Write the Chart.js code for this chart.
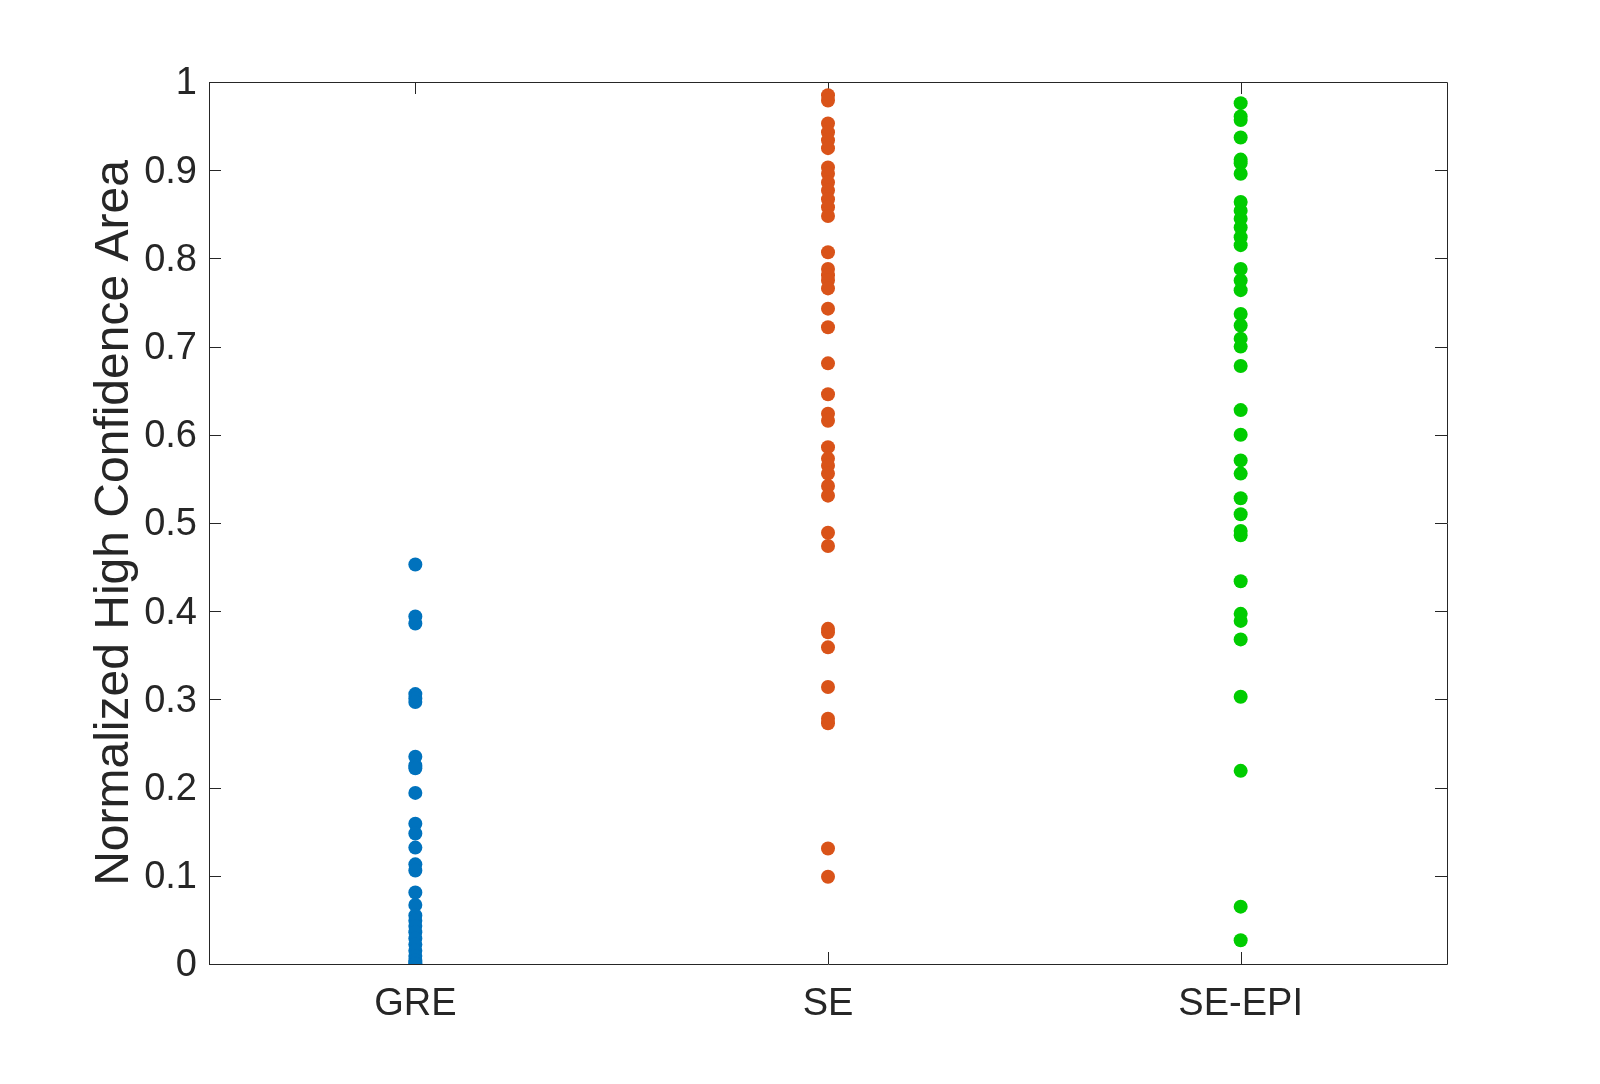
<!DOCTYPE html>
<html>
<head>
<meta charset="utf-8">
<script src="https://cdn.jsdelivr.net/npm/chart.js@4.4.1/dist/chart.umd.min.js"></script>
<style>
    html, body { margin: 0; padding: 0; background: #fff; }
    canvas { display: block; }
</style>
</head>
<body>
<canvas id="scatterChart" width="1600" height="1084"></canvas>
<script>
// Categories on the x axis (positions 1, 2, 3)
const categories = ['GRE', 'SE', 'SE-EPI'];
const categoryPos = [1, 2, 3];

// Y ticks
const yTicks = [0, 0.1, 0.2, 0.3, 0.4, 0.5, 0.6, 0.7, 0.8, 0.9, 1];
const yTickLabels = ['0', '0.1', '0.2', '0.3', '0.4', '0.5', '0.6', '0.7', '0.8', '0.9', '1'];

// Values
const greValues = [0.453, 0.394, 0.386, 0.306, 0.301, 0.297, 0.235, 0.225, 0.222, 0.194,
    0.159, 0.148, 0.132, 0.113, 0.106, 0.081, 0.067, 0.055, 0.049, 0.043, 0.036, 0.029,
    0.022, 0.015, 0.009, 0.004, 0.001, 0];
const seValues = [0.985, 0.979, 0.953, 0.943, 0.934, 0.925, 0.903, 0.896, 0.886, 0.877,
    0.867, 0.858, 0.848, 0.807, 0.788, 0.781, 0.775, 0.766, 0.743, 0.722, 0.681, 0.646,
    0.624, 0.616, 0.586, 0.573, 0.565, 0.556, 0.542, 0.531, 0.489, 0.474, 0.380, 0.376,
    0.359, 0.314, 0.278, 0.273, 0.131, 0.099];
const seEpiValues = [0.976, 0.961, 0.957, 0.937, 0.912, 0.908, 0.896, 0.864, 0.854, 0.845,
    0.835, 0.824, 0.815, 0.788, 0.775, 0.764, 0.737, 0.724, 0.709, 0.700, 0.678, 0.628,
    0.600, 0.571, 0.556, 0.528, 0.510, 0.491, 0.486, 0.434, 0.397, 0.389, 0.368, 0.303,
    0.219, 0.065, 0.027];

const seriesColors = ['#0072BD', '#D95319', '#00CC00'];
const axisColor = '#262626';
const fontFamily = '"Liberation Sans", Arial, sans-serif';

const toPoints = (vals, x) => vals.map(v => ({ x: x, y: v }));

// Box around the plot with inward tick marks (drawn under the points)
const boxPlugin = {
    id: 'boxTicks',
    beforeDatasetsDraw(chart) {
        const { ctx, chartArea: a, scales } = chart;
        const len = 12;
        ctx.save();
        ctx.strokeStyle = axisColor;
        ctx.lineWidth = 1;
        ctx.beginPath();
        ctx.rect(Math.round(a.left) + 0.5, Math.round(a.top) + 0.5,
            Math.round(a.right - a.left), Math.round(a.bottom - a.top));
        yTicks.forEach(v => {
            const y = Math.round(scales.y.getPixelForValue(v)) + 0.5;
            ctx.moveTo(a.left, y); ctx.lineTo(a.left + len, y);
            ctx.moveTo(a.right, y); ctx.lineTo(a.right - len, y);
        });
        categoryPos.forEach(v => {
            const x = Math.round(scales.x.getPixelForValue(v)) + 0.5;
            ctx.moveTo(x, a.bottom); ctx.lineTo(x, a.bottom - len);
            ctx.moveTo(x, a.top); ctx.lineTo(x, a.top + len);
        });
        ctx.stroke();
        ctx.restore();
    }
};

const ctx = document.getElementById('scatterChart').getContext('2d');
new Chart(ctx, {
    type: 'scatter',
    data: {
        datasets: [
            { label: categories[0], data: toPoints(greValues, categoryPos[0]), backgroundColor: seriesColors[0] },
            { label: categories[1], data: toPoints(seValues, categoryPos[1]), backgroundColor: seriesColors[1] },
            { label: categories[2], data: toPoints(seEpiValues, categoryPos[2]), backgroundColor: seriesColors[2] }
        ]
    },
    options: {
        responsive: false,
        animation: false,
        devicePixelRatio: 1,
        elements: {
            point: { radius: 7, borderWidth: 0, hoverRadius: 7 }
        },
        layout: {
            padding: { top: 82, right: 153, left: 0, bottom: 0 }
        },
        plugins: {
            legend: { display: false },
            tooltip: { enabled: false }
        },
        scales: {
            x: {
                type: 'linear',
                min: 0.5,
                max: 3.5,
                afterBuildTicks: s => { s.ticks = categoryPos.map(v => ({ value: v })); },
                afterFit: s => { s.height = 120; },
                grid: { display: false, drawTicks: false },
                border: { display: false },
                ticks: {
                    autoSkip: false,
                    maxRotation: 0,
                    padding: 18,
                    color: axisColor,
                    font: { family: fontFamily, size: 38 },
                    callback: (value, index) => categories[index]
                }
            },
            y: {
                min: 0,
                max: 1,
                afterBuildTicks: s => { s.ticks = yTicks.map(v => ({ value: v })); },
                afterFit: s => { s.width = 209; },
                grid: { display: false, drawTicks: false },
                border: { display: false },
                ticks: {
                    padding: 12,
                    labelOffset: 2,
                    color: axisColor,
                    font: { family: fontFamily, size: 38 },
                    callback: (value, index) => yTickLabels[index]
                },
                title: {
                    display: true,
                    text: 'Normalized High Confidence Area',
                    color: axisColor,
                    font: { family: fontFamily, size: 48 },
                    padding: { top: 86, bottom: 0 }
                }
            }
        }
    },
    plugins: [boxPlugin]
});
</script>
</body>
</html>
